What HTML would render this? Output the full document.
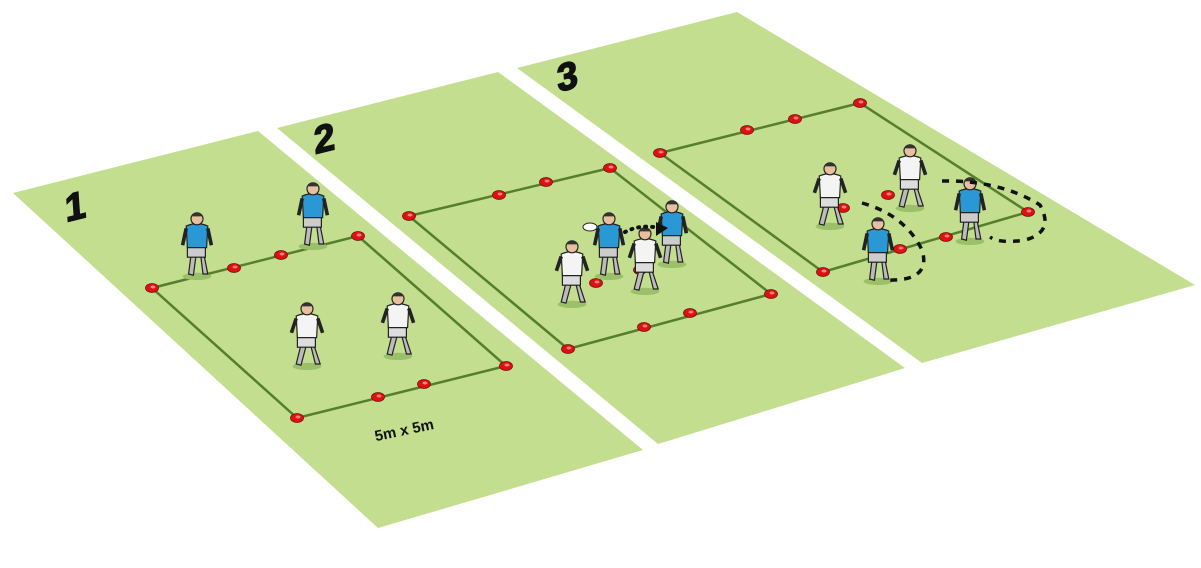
<!DOCTYPE html>
<html><head><meta charset="utf-8"><style>
html,body{margin:0;padding:0;background:#fff;width:1201px;height:568px;overflow:hidden}
svg{display:block}
</style></head><body>
<svg width="1201" height="568" viewBox="0 0 1201 568" xmlns="http://www.w3.org/2000/svg">
<defs>
<g id="cone"><ellipse cx="0" cy="0" rx="6.5" ry="4.5" fill="#e01010" stroke="#6a1010" stroke-width="0.8"/><ellipse cx="1" cy="-1" rx="2.5" ry="1.5" fill="#ff8080"/></g>
<g id="pb" transform="scale(1.2)">
<ellipse cx="0" cy="32" rx="12" ry="3" fill="#9cbf6a"/>
<path d="M-5 14 L-7 30 L-3 31 L-1 16 Z M3 14 L5 30 L9 30 L6 15 Z" fill="#bbb" stroke="#222" stroke-width="1"/>
<rect x="-8" y="6" width="15" height="10" fill="#ccc" stroke="#222" stroke-width="1"/>
<path d="M-9 -10 Q0 -14 9 -10 L8 8 L-8 8 Z" fill="#2a98d4" stroke="#222" stroke-width="1"/>
<path d="M-9 -8 L-12 6 M9 -8 L12 6" stroke="#222" stroke-width="3"/>
<circle cx="0" cy="-16" r="5" fill="#e8c0a0" stroke="#222" stroke-width="1"/>
<path d="M-5 -18 Q0 -24 5 -18 Z" fill="#333"/>
</g>
<g id="pw" transform="scale(1.2)">
<ellipse cx="0" cy="32" rx="12" ry="3" fill="#9cbf6a"/>
<path d="M-5 14 L-9 30 L-5 31 L-1 16 Z M3 14 L7 30 L11 30 L6 15 Z" fill="#bbb" stroke="#222" stroke-width="1"/>
<rect x="-8" y="6" width="15" height="10" fill="#ddd" stroke="#222" stroke-width="1"/>
<path d="M-9 -10 Q0 -14 9 -10 L8 8 L-8 8 Z" fill="#f4f4f4" stroke="#222" stroke-width="1"/>
<path d="M-9 -8 L-13 4 M9 -8 L13 4" stroke="#222" stroke-width="3"/>
<circle cx="0" cy="-16" r="5" fill="#e8c0a0" stroke="#222" stroke-width="1"/>
<path d="M-5 -18 Q0 -24 5 -18 Z" fill="#333"/>
</g>
</defs>
<polygon points="13,193 258,131 643,450 378,528" fill="#c3de8e"/>
<polygon points="277,128 498,72 905,368 658,444" fill="#c3de8e"/>
<polygon points="517,68 737,12 1195,285 922,363" fill="#c3de8e"/>
<g stroke="#557f2c" stroke-width="2.5" fill="none">
<polygon points="152,288 358,236 506,366 297,418"/>
<polygon points="409,216 610,168 771,294 568,349"/>
<polygon points="660,153 860,103 1028,212 823,272"/>
</g>
<g font-family="Liberation Sans, sans-serif" font-weight="bold" font-size="38" fill="#111" stroke="#111" stroke-width="1.5">
<text transform="translate(66,222) rotate(-14) skewX(-10)">1</text>
<text transform="translate(315,154) rotate(-14) skewX(-10)">2</text>
<text transform="translate(558,92) rotate(-14) skewX(-10)">3</text>
</g>
<text x="374" y="436" font-family="Liberation Sans, sans-serif" font-weight="bold" font-size="15" fill="#111" transform="rotate(-12 400 430)">5m x 5m</text>
<g>
<use href="#cone" x="152" y="288"/><use href="#cone" x="358" y="236"/><use href="#cone" x="506" y="366"/><use href="#cone" x="297" y="418"/>
<use href="#cone" x="234" y="268"/><use href="#cone" x="281" y="255"/><use href="#cone" x="378" y="397"/><use href="#cone" x="424" y="384"/>
<use href="#cone" x="409" y="216"/><use href="#cone" x="610" y="168"/><use href="#cone" x="771" y="294"/><use href="#cone" x="568" y="349"/>
<use href="#cone" x="499" y="195"/><use href="#cone" x="546" y="182"/><use href="#cone" x="644" y="327"/><use href="#cone" x="690" y="313"/>
<use href="#cone" x="660" y="153"/><use href="#cone" x="860" y="103"/><use href="#cone" x="1028" y="212"/><use href="#cone" x="823" y="272"/>
<use href="#cone" x="747" y="130"/><use href="#cone" x="795" y="119"/><use href="#cone" x="900" y="249"/><use href="#cone" x="946" y="237"/>
<use href="#cone" x="596" y="283"/><use href="#cone" x="640" y="270"/><use href="#cone" x="843" y="208"/><use href="#cone" x="888" y="195"/>
</g>
<use href="#pb" x="197" y="238"/><use href="#pb" x="313" y="208"/>
<use href="#pw" x="307" y="328"/><use href="#pw" x="398" y="318"/>
<use href="#pw" x="572" y="266"/><use href="#pb" x="609" y="238"/><use href="#pw" x="645" y="253"/><use href="#pb" x="672" y="226"/>
<use href="#pw" x="830" y="188"/><use href="#pw" x="910" y="170"/><use href="#pb" x="878" y="243"/><use href="#pb" x="970" y="203"/>
<ellipse cx="590" cy="227" rx="7" ry="4" fill="#fff" stroke="#222"/>
<path d="M625 232 Q640 224 660 228" stroke="#111" stroke-width="4" stroke-dasharray="1 6" stroke-linecap="round" fill="none"/>
<path d="M656 222 L668 228 L656 236 Z" fill="#111"/>
<g stroke="#111" stroke-width="3.5" stroke-dasharray="7 7" fill="none">
<path d="M862 203 Q905 215 922 250 Q932 282 885 280"/>
<path d="M942 181 Q1000 180 1040 205 Q1055 232 1025 240 Q1000 244 990 237"/>
</g>
</svg>
</body></html>
